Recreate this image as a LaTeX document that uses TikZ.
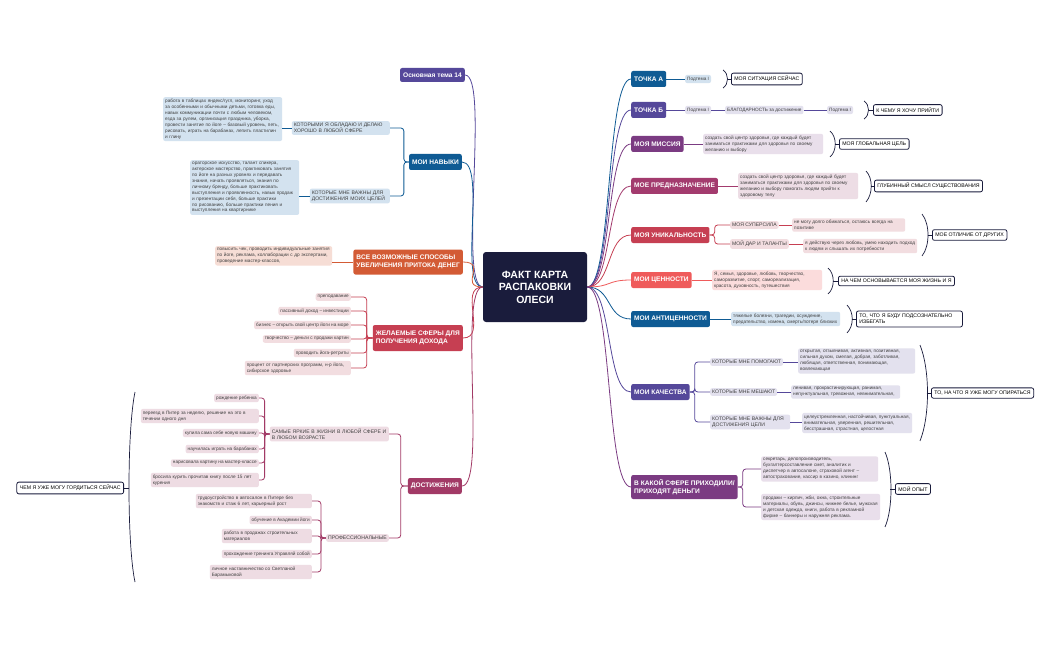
\documentclass[tikz,border=0pt]{standalone}
\usepackage{fontspec}
\setmainfont{Liberation Sans}
\begin{document}
\definecolor{blueM}{HTML}{0F5B94}\definecolor{purpleM}{HTML}{55489A}
\definecolor{violetM}{HTML}{7B3B82}\definecolor{plumM}{HTML}{A33B6E}
\definecolor{redM}{HTML}{C63F52}\definecolor{coralM}{HTML}{EF5B5B}
\definecolor{orangeM}{HTML}{D35B35}\definecolor{maroonM}{HTML}{A23A66}
\definecolor{navy}{HTML}{1A1C3C}
\definecolor{lblue}{HTML}{D3E2EF}\definecolor{lpink}{HTML}{FBDCDC}
\definecolor{lred}{HTML}{F2DDE0}\definecolor{lplum}{HTML}{EDDDE5}
\definecolor{lviolet}{HTML}{E9DFEB}\definecolor{llav}{HTML}{E3E1EE}
\definecolor{lorange}{HTML}{F6DDD5}\definecolor{lmar}{HTML}{EEDCE3}
\begin{tikzpicture}[x=1pt,y=-1pt,
 main/.style={rounded corners=2pt,text=white,font=\bfseries\fontsize{6.6}{7.9}\selectfont,inner sep=3pt,align=left,anchor=west,minimum height=16pt},
 mainr/.style={main,anchor=east},
 txt/.style={rounded corners=2pt,font=\fontsize{4.7}{5.9}\selectfont,inner sep=2pt,align=left,text=black!75,anchor=north west},
 sub/.style={rounded corners=2pt,font=\fontsize{5.1}{6.1}\selectfont,inner sep=2pt,align=left,text=black!75},
 it/.style={sub,font=\fontsize{4.7}{5.9}\selectfont},
 lab/.style={draw=navy,line width=0.8pt,rounded corners=2pt,fill=white,font=\fontsize{5.2}{6.3}\selectfont,inner sep=3pt,align=left,anchor=west},
 br/.style={navy,line width=0.7pt},
 con/.style={line width=0.8pt}]
\useasboundingbox (0,0) rectangle (1050,650);
\fill[white] (0,0) rectangle (1050,650);

% centre
\node[fill=navy,rounded corners=3pt,text=white,font=\bfseries\fontsize{10.5}{12.5}\selectfont,align=center,minimum width=104pt,minimum height=70pt] (c) at (535,287) {ФАКТ КАРТА\\РАСПАКОВКИ\\ОЛЕСИ};

% ---------- left side ----------
\node[mainr,fill=purpleM,minimum height=14pt] (t14) at (465,75) {Основная тема 14};
\node[mainr,fill=blueM] (nav) at (462,162) {МОИ НАВЫКИ};
\node[sub,fill=lblue,anchor=east,text width=94pt] (nav1) at (390,128) {КОТОРЫМИ Я ОБЛАДАЮ И ДЕЛАЮ ХОРОШО В ЛЮБОЙ СФЕРЕ};
\node[sub,fill=lblue,anchor=east,text width=76pt] (nav2) at (390,196) {КОТОРЫЕ МНЕ ВАЖНЫ ДЛЯ ДОСТИЖЕНИЯ МОИХ ЦЕЛЕЙ};
\node[txt,fill=lblue,text width=115pt] (nav1t) at (163,97) {работа в таблицах яндекс/гугл, мониторинг, уход за особенными и обычными детьми, готовка еды, навык коммуникации почти с любым человеком, езда за рулем, организация праздника, уборка, провести занятие по йоге -- базовый уровень, петь, рисовать, играть на барабанах, лепить пластилин и глину};
\node[txt,fill=lblue,text width=105pt] (nav2t) at (190,160) {ораторское искусство, талант спикера, актерское мастерство, практиковать занятия по йоге на разных уровнях и передавать знания, начать проявляться, знания по личному бренду, больше практиковать выступления и проявленность, навык продаж и презентации себя, больше практики по рисованию, больше практики пения и выступления на квартирнике};
\draw[con,blueM,rounded corners=3pt] (nav.west) -| ([xshift=-5pt]nav.west |- nav1.east) -- (nav1.east);
\draw[con,blueM,rounded corners=3pt] (nav.west) -| ([xshift=-5pt]nav.west |- nav2.east) -- (nav2.east);
\draw[con,blueM] (nav1.west) -- (nav1t.east |- nav1.west);
\draw[con,blueM] (nav2.west) -- (nav2t.east |- nav2.west);

\node[mainr,fill=orangeM,minimum height=25pt] (mon) at (463,262) {ВСЕ ВОЗМОЖНЫЕ СПОСОБЫ\\УВЕЛИЧЕНИЯ ПРИТОКА ДЕНЕГ};
\node[txt,fill=lorange,text width=113pt] (mont) at (215,246) {повысить чек, проводить индивидуальные занятия по йоге, реклама, коллаборации с др экспертами, проведение мастер-классов,};
\draw[con,orangeM] (mon.west) -- (mont.east |- mon.west);

\node[mainr,fill=redM,minimum height=26pt] (des) at (463,338) {ЖЕЛАЕМЫЕ СФЕРЫ ДЛЯ\\ПОЛУЧЕНИЯ ДОХОДА};
\foreach \n/\y/\t in {d1/297/{преподавание},d2/311/{пассивный доход -- инвестиции},d3/325/{бизнес -- открыть свой центр йоги на море},d4/339/{творчество -- деньги с продажи картин},d5/353/{проводить йога-ретриты}}{
 \node[it,fill=lred,anchor=east] (\n) at (351,\y) {\t};
 \draw[con,redM,rounded corners=3pt] (des.west) -| ([xshift=-6pt]des.west |- \n.east) -- (\n.east);}
\node[it,fill=lred,anchor=east,text width=102pt] (d6) at (351,368) {процент от партнерских программ, н-р йога, сибирское здоровье};
\draw[con,redM,rounded corners=3pt] (des.west) -| ([xshift=-6pt]des.west |- d6.east) -- (d6.east);

\node[mainr,fill=maroonM] (ach) at (462,486) {ДОСТИЖЕНИЯ};
\node[sub,fill=lmar,anchor=east,text width=115pt] (a1) at (389,434) {САМЫЕ ЯРКИЕ В ЖИЗНИ В ЛЮБОЙ СФЕРЕ И В ЛЮБОМ ВОЗРАСТЕ};
\node[sub,fill=lmar,anchor=east] (a2) at (389,538) {ПРОФЕССИОНАЛЬНЫЕ};
\draw[con,maroonM,rounded corners=3pt] (ach.west) -| ([xshift=-7pt]ach.west |- a1.east) -- (a1.east);
\draw[con,maroonM,rounded corners=3pt] (ach.west) -| ([xshift=-7pt]ach.west |- a2.east) -- (a2.east);
\foreach \n/\y/\t in {b1/398/{рождение ребенка},b3/433/{купила сама себе новую машину},b4/449/{научилась играть на барабанах},b5/463/{нарисовала картину на мастер-классе}}{
 \node[it,fill=lmar,anchor=east] (\n) at (259,\y) {\t};}
\node[it,fill=lmar,anchor=east,text width=114pt] (b2) at (259,416) {переезд в Питер за неделю, решение на это в течении одного дня};
\node[it,fill=lmar,anchor=east,text width=104pt] (b6) at (259,480) {бросила курить прочитав книгу после 15 лет курения};
\foreach \n in {b1,b2,b3,b4,b5,b6}{\draw[con,maroonM,rounded corners=3pt] (a1.west) -| ([xshift=-5pt]a1.west |- \n.east) -- (\n.east);}
\node[it,fill=lmar,anchor=east,text width=112pt] (p1) at (312,501) {трудоустройство в автосалон в Питере без знакомств и стаж 6 лет, карьерный рост};
\node[it,fill=lmar,anchor=east] (p2) at (312,520) {обучение в Академии йоги};
\node[it,fill=lmar,anchor=east,text width=86pt] (p3) at (312,536) {работа в продажах строительных материалов};
\node[it,fill=lmar,anchor=east] (p4) at (312,554) {прохождение тренинга Управляй собой};
\node[it,fill=lmar,anchor=east,text width=98pt] (p5) at (312,572) {личное наставничество со Светланой Барамыковой};
\foreach \n in {p1,p2,p3,p4,p5}{\draw[con,maroonM,rounded corners=3pt] (a2.west) -| ([xshift=-5pt]a2.west |- \n.east) -- (\n.east);}
\node[lab,anchor=east] (proud) at (124,488) {ЧЕМ Я УЖЕ МОГУ ГОРДИТЬСЯ СЕЙЧАС};
\coordinate (bl) at (129,488);
\draw[br] (135,392) .. controls (127,430) and (127,545) .. (135,582);
\draw[br] (bl) -- (proud.east);

\foreach \n/\col in {t14/purpleM,nav/blueM,mon/orangeM,des/redM,ach/maroonM}{
 \draw[con,\col] (\n.east) .. controls +(25,0) and ([xshift=-25pt]c.west) .. (c.west);}

% ---------- right side ----------
\node[main,fill=blueM] (pa) at (631,79) {ТОЧКА А};
\node[it,fill=lblue,anchor=west] (pa1) at (685,79) {Подтема I};
\draw[con,blueM] (pa.east) -- (pa1.west);
\node[lab] (la) at (731,79) {МОЯ СИТУАЦИЯ СЕЙЧАС};
\draw[br] (723,70) .. controls (729,74) and (729,84) .. (723,88); \draw[br] (727.5,79) -- (la.west);

\node[main,fill=purpleM] (pb) at (631,110) {ТОЧКА Б};
\node[it,fill=llav,anchor=west] (pb1) at (685,110) {Подтема I};
\node[it,fill=llav,anchor=west] (pb2) at (725,110) {БЛАГОДАРНОСТЬ за достижение};
\node[it,fill=llav,anchor=west] (pb3) at (827,110) {Подтема I};
\draw[con,purpleM] (pb.east) -- (pb1.west); \draw[con,purpleM] (pb1.east) -- (pb2.west); \draw[con,purpleM] (pb2.east) -- (pb3.west);
\node[lab] (lb) at (873,110) {К ЧЕМУ Я ХОЧУ ПРИЙТИ};
\draw[br] (864,101) .. controls (870,105) and (870,115) .. (864,119); \draw[br] (868.5,110) -- (lb.west);

\node[main,fill=violetM] (mis) at (631,144) {МОЯ МИССИЯ};
\node[txt,fill=lviolet,text width=116pt,anchor=west] (mist) at (703,144) {создать свой центр здоровья, где каждый будет заниматься практиками для здоровья по своему желанию и выбору};
\draw[con,violetM] (mis.east) -- (mist.west);
\node[lab] (lm) at (839,144) {МОЯ ГЛОБАЛЬНАЯ ЦЕЛЬ};
\draw[br] (830,131) .. controls (837,137) and (837,151) .. (830,157); \draw[br] (834.5,144) -- (lm.west);

\node[main,fill=plumM] (pur) at (631,186) {МОЕ ПРЕДНАЗНАЧЕНИЕ};
\node[txt,fill=lplum,text width=116pt,anchor=west] (purt) at (738,186) {создать свой центр здоровья, где каждый будет заниматься практиками для здоровья по своему желанию и выбору помогать людям прийти к здоровому телу};
\draw[con,plumM] (pur.east) -- (purt.west);
\node[lab] (lp) at (874,186) {ГЛУБИННЫЙ СМЫСЛ СУЩЕСТВОВАНИЯ};
\draw[br] (866,171) .. controls (873,178) and (873,194) .. (866,202); \draw[br] (870.5,186) -- (lp.west);

\node[main,fill=redM] (uni) at (631,235) {МОЯ УНИКАЛЬНОСТЬ};
\node[sub,fill=lred,anchor=west] (u1) at (730,225) {МОЯ СУПЕРСИЛА};
\node[sub,fill=lred,anchor=west] (u2) at (730,244) {МОЙ ДАР И ТАЛАНТЫ};
\draw[con,redM,rounded corners=3pt] (uni.east) -| ([xshift=5pt]uni.east |- u1.west) -- (u1.west);
\draw[con,redM,rounded corners=3pt] (uni.east) -| ([xshift=5pt]uni.east |- u2.west) -- (u2.west);
\node[txt,fill=lred,text width=109pt,anchor=west] (u1t) at (792,225) {не могу долго обижаться, остаюсь всегда на позитиве};
\node[txt,fill=lred,text width=110pt,anchor=west] (u2t) at (803,246) {я действую через любовь, умею находить подход к людям и слышать их потребности};
\draw[con,redM] (u1.east) -- (u1t.west |- u1.east); \draw[con,redM] (u2.east) -- (u2t.west |- u2.east);
\node[lab] (lu) at (932,235) {МОЕ ОТЛИЧИЕ ОТ ДРУГИХ};
\draw[br] (922,214) .. controls (930,224) and (930,246) .. (922,256); \draw[br] (927.5,235) -- (lu.west);

\node[main,fill=coralM] (val) at (631,280) {МОИ ЦЕННОСТИ};
\node[txt,fill=lpink,text width=106pt,anchor=west] (valt) at (712,280) {Я, семья, здоровье, любовь, творчество, саморазвитие, спорт, самореализация, красота, духовность, путешествия};
\draw[con,coralM] (val.east) -- (valt.west);
\node[lab] (lv) at (838,281) {НА ЧЕМ ОСНОВЫВАЕТСЯ МОЯ ЖИЗНЬ И Я};
\draw[br] (828,268) .. controls (835,274) and (835,288) .. (828,294); \draw[br] (832.5,281) -- (lv.west);

\node[main,fill=blueM] (anti) at (631,319) {МОИ АНТИЦЕННОСТИ};
\node[txt,fill=lblue,text width=105pt,anchor=west] (antit) at (731,319) {тяжелые болезни, трагедии, осуждение, предательство, измена, смерть/потеря близких};
\draw[con,blueM] (anti.east) -- (antit.west);
\node[lab,text width=100pt] (lan) at (856,319) {ТО, ЧТО Я БУДУ ПОДСОЗНАТЕЛЬНО ИЗБЕГАТЬ};
\draw[br] (847,305) .. controls (854,312) and (854,326) .. (847,333); \draw[br] (851.5,319) -- (lan.west);

\node[main,fill=purpleM] (q) at (631,392) {МОИ КАЧЕСТВА};
\node[sub,fill=llav,anchor=west] (q1) at (710,362) {КОТОРЫЕ МНЕ ПОМОГАЮТ};
\node[sub,fill=llav,anchor=west] (q2) at (710,392) {КОТОРЫЕ МНЕ МЕШАЮТ};
\node[sub,fill=llav,anchor=west,text width=76pt] (q3) at (710,422) {КОТОРЫЕ МНЕ ВАЖНЫ ДЛЯ ДОСТИЖЕНИЯ ЦЕЛИ};
\foreach \n in {q1,q2,q3}{\draw[con,purpleM,rounded corners=3pt] (q.east) -| ([xshift=5pt]q.east |- \n.west) -- (\n.west);}
\node[txt,fill=llav,text width=113pt,anchor=west] (q1t) at (798,361) {открытая, отзывчивая, активная, позитивная, сильная духом, смелая, добрая, заботливая, любящая, ответственная, понимающая, вовлекающая};
\node[txt,fill=llav,text width=105pt,anchor=west] (q2t) at (791,392) {ленивая, прокрастинирующая, ранимая, непунктуальная, тревожная, невнимательная,};
\node[txt,fill=llav,text width=106pt,anchor=west] (q3t) at (802,423) {целеустремленная, настойчивая, пунктуальная, внимательная, уверенная, решительная, бесстрашная, страстная, целостная};
\draw[con,purpleM] (q1.east) -- (q1t.west |- q1.east); \draw[con,purpleM] (q2.east) -- (q2t.west |- q2.east); \draw[con,purpleM] (q3.east) -- (q3t.west |- q3.east);
\node[lab] (lq) at (931,393) {ТО, НА ЧТО Я УЖЕ МОГУ ОПИРАТЬСЯ};
\draw[br] (920,345) .. controls (930,370) and (930,416) .. (920,441); \draw[br] (926.5,393) -- (lq.west);

\node[main,fill=violetM,minimum height=24pt] (mw) at (631,487) {В КАКОЙ СФЕРЕ ПРИХОДИЛИ/\\ПРИХОДЯТ ДЕНЬГИ};
\node[txt,fill=lviolet,text width=113pt,anchor=west] (mw1) at (761,469) {секретарь, делопроизводитель, бухгалтерсоставление смет, аналитик и диспетчер в автосалоне, страховой агент -- автострахование, кассир в казино, клининг};
\node[txt,fill=lviolet,text width=115pt,anchor=west] (mw2) at (761,507) {продажи -- кирпич, жби, окна, строительные материалы, обувь, джинсы, нижнее белье, мужская и детская одежда, книги, работа в рекламной фирме -- баннеры и наружняя реклама.};
\draw[con,violetM,rounded corners=3pt] (mw.east) -| ([xshift=5pt]mw.east |- mw1.west) -- (mw1.west);
\draw[con,violetM,rounded corners=3pt] (mw.east) -| ([xshift=5pt]mw.east |- mw2.west) -- (mw2.west);
\node[lab] (lmw) at (895,489) {МОЙ ОПЫТ};
\draw[br] (885,452) .. controls (893,470) and (893,509) .. (885,527); \draw[br] (890,489) -- (lmw.west);

\foreach \n/\col in {pa/blueM,pb/purpleM,mis/violetM,pur/plumM,uni/redM,val/coralM,anti/blueM,q/purpleM,mw/violetM}{
 \draw[con,\col] (\n.west) .. controls +(-25,0) and ([xshift=25pt]c.east) .. (c.east);}
\end{tikzpicture}
\end{document}
